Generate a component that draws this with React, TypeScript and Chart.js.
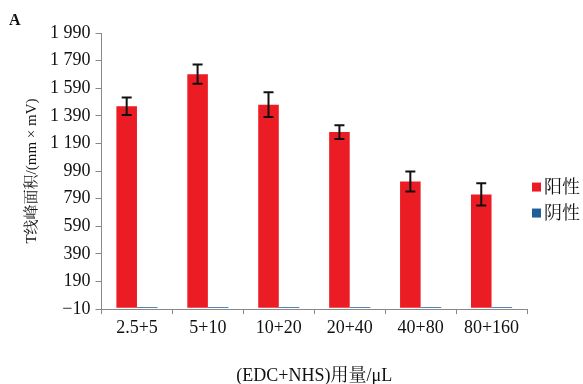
import React, { useEffect, useRef } from "react";
import { Chart, registerables } from "chart.js";

Chart.register(...registerables);

const categories = ["2.5+5", "5+10", "10+20", "20+40", "40+80", "80+160"];
const positiveValues = [1459, 1692, 1471, 1272, 914, 821];
const positiveErrors = [63, 70, 90, 50, 72, 80];
const negativeValues = [6, 6, 6, 6, 6, 6];
const yTicks = [-10, 190, 390, 590, 790, 990, 1190, 1390, 1590, 1790, 1990];
const seriesNames = ["阳性", "阴性"];
const seriesColors = ["#EC1C24", "#1F5E99"];

const FONT = "'Liberation Serif', 'Noto Serif CJK SC', 'Noto Sans CJK SC', serif";

const fmt = (v: number) => {
  const s = String(Math.abs(v));
  const parts = s.replace(/\B(?=(\d{3})+(?!\d))/g, " ");
  return (v < 0 ? "\u2212" : "") + parts;
};

const errorBarPlugin = {
  id: "errorBars",
  afterDatasetsDraw(chart: any) {
    const { ctx } = chart;
    const meta = chart.getDatasetMeta(0);
    const y = chart.scales.y;
    ctx.save();
    ctx.strokeStyle = "#111";
    ctx.lineWidth = 2;
    meta.data.forEach((bar: any, i: number) => {
      const x = bar.x;
      const top = y.getPixelForValue(positiveValues[i] + positiveErrors[i]);
      const bot = y.getPixelForValue(positiveValues[i] - positiveErrors[i]);
      ctx.beginPath();
      ctx.moveTo(x, top);
      ctx.lineTo(x, bot);
      ctx.moveTo(x - 5, top);
      ctx.lineTo(x + 5, top);
      ctx.moveTo(x - 5, bot);
      ctx.lineTo(x + 5, bot);
      ctx.stroke();
    });
    ctx.restore();
  },
};

const legendAndLabelPlugin = {
  id: "legendAndLabel",
  afterDraw(chart: any) {
    const { ctx, chartArea } = chart;
    ctx.save();
    ctx.fillStyle = "#111";
    ctx.font = `bold 16px ${FONT}`;
    ctx.textBaseline = "alphabetic";
    ctx.fillText("A", 9, 25);
    const lx = chartArea.right + 5;
    const cy = (chartArea.top + chartArea.bottom) / 2 + 29;
    ctx.font = `18px ${FONT}`;
    ctx.textBaseline = "middle";
    seriesNames.forEach((name, i) => {
      const yy = cy + (i - 0.5) * 26;
      ctx.fillStyle = seriesColors[i];
      ctx.fillRect(lx, yy - 4.5, 9, 9);
      ctx.fillStyle = "#111";
      ctx.fillText(name, lx + 12, yy + 1);
    });
    ctx.restore();
  },
};

export default function App() {
  const ref = useRef<HTMLCanvasElement>(null);
  useEffect(() => {
    if (!ref.current) return;
    const chart = new Chart(ref.current, {
      type: "bar",
      data: {
        labels: categories,
        datasets: [
          {
            label: seriesNames[0],
            data: positiveValues,
            backgroundColor: seriesColors[0],
            borderWidth: 0,
          },
          {
            label: seriesNames[1],
            data: negativeValues,
            backgroundColor: seriesColors[1],
            borderWidth: 0,
          },
        ],
      },
      options: {
        animation: false,
        responsive: false,
        maintainAspectRatio: false,
        layout: { padding: { top: 33, right: 56, left: 23, bottom: 0 } },
        datasets: {
          bar: { categoryPercentage: 0.58, barPercentage: 1 },
        },
        scales: {
          x: {
            grid: {
              drawOnChartArea: false,
              drawTicks: true,
              tickLength: 5,
              color: "#888",
            },
            border: { color: "#888" },
            ticks: { color: "#111", font: { family: FONT, size: 18 }, padding: 3 },
            title: {
              display: true,
              text: "(EDC+NHS)用量/μL",
              color: "#111",
              font: { family: FONT, size: 18, lineHeight: 0.85 },
              padding: { top: 27, bottom: 0 },
            },
          },
          y: {
            min: -10,
            max: 1990,
            afterBuildTicks(axis: any) {
              axis.ticks = yTicks.map((v) => ({ value: v }));
            },
            grid: {
              drawOnChartArea: false,
              drawTicks: true,
              tickLength: 6,
              color: "#888",
            },
            border: { color: "#888" },
            ticks: {
              color: "#111",
              font: { family: FONT, size: 18 },
              padding: 5,
              callback: (v: any) => fmt(Number(v)),
            },
            title: {
              display: true,
              text: "T线峰面积/(mm × mV)",
              color: "#111",
              font: { family: FONT, size: 15 },
              padding: { top: 0, bottom: 4 },
            },
          },
        },
        plugins: {
          legend: { display: false },
          tooltip: { enabled: false },
        },
      },
      plugins: [errorBarPlugin, legendAndLabelPlugin],
    });
    return () => chart.destroy();
  }, []);
  return (
    <div style={{ position: "fixed", left: 0, top: 0, width: 583, height: 384, background: "#fff" }}>
      <canvas ref={ref} width={583} height={384} />
    </div>
  );
}
